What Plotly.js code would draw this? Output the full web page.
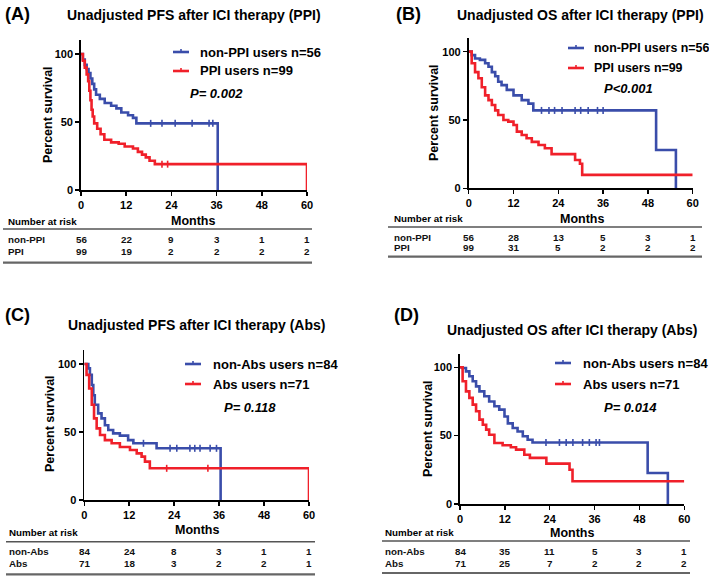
<!DOCTYPE html>
<html><head><meta charset="utf-8">
<script src="https://cdn.plot.ly/plotly-3.0.1.min.js"></script>
<style>html,body{margin:0;padding:0;background:#fff}#chart{width:709px;height:576px}</style>
</head><body><div id="chart"></div>
<script>
// ---------- DATA ----------
const riskMonths = [0, 12, 24, 36, 48, 60];

// Panel A: PFS (PPI)
const pfsPpiNonT = [0,0.5,1.0,1.5,2.0,2.5,3.0,3.5,4.0,5.0,6.3,8.0,9.4,10.7,12.5,13.8,14.7,36.3];
const pfsPpiNonS = [100,96,92,89,86,82,78,74,70,67,64,62,60,57,55,53,49,0];
const pfsPpiNonCensT = [18.5,21.5,25,29.5,34,35];
const pfsPpiNonCensS = [49,49,49,49,49,49];
const pfsPpiT = [0,0.5,1.0,1.5,1.9,2.2,2.5,2.8,3.1,3.5,4.3,5.2,6.2,8.0,10.0,11.6,13.8,15.1,16.2,17.2,18.2,19.6,60];
const pfsPpiS = [100,95,90,85,80,73,66,59,54,49,45,41,37,35,34,32,30.5,28,26,24,21.5,19,0];
const pfsPpiCensT = [21.5,23];
const pfsPpiCensS = [19,19];
const riskA_non = [56,22,9,3,1,1];
const riskA_ppi = [99,19,2,2,2,2];

// Panel B: OS (PPI)
const osPpiNonT = [0,0.8,1.7,3.0,4.4,5.3,6.2,7.1,7.9,8.8,10.2,12.0,14.2,16.0,17.3,50.2,55.5];
const osPpiNonS = [100,97.5,95,94,91.5,89,85,82,78,75.5,72,68,64.5,62,57,28,0];
const osPpiNonCensT = [19.5,21.5,23,25,28.5,30,32,34.5,36];
const osPpiNonCensS = [57,57,57,57,57,57,57,57,57];
const osPpiT = [0,0.8,1.7,2.6,3.5,4.4,5.3,6.2,7.1,7.9,9.3,10.6,12.0,12.9,14.2,15.5,16.9,18.7,20.4,22.2,28.5,29.8,30.4,60];
const osPpiS = [100,91.5,85,80.5,74,68,64.5,61,57,53.7,50,48.8,46.3,41.5,39,36.6,34,31.7,29.3,25,20.7,18,9.8,9.8];
const riskB_non = [56,28,13,5,3,1];
const riskB_ppi = [99,31,5,2,2,2];

// Panel C: PFS (Abs)
const pfsAbsNonT = [0,1.07,1.5,2.0,2.4,2.8,3.7,4.6,5.5,6.4,7.7,9.5,11.7,13.1,19.3,36.4];
const pfsAbsNonS = [100,96.8,92,84.6,77,70,63.7,60,55,51.5,49,47.3,44,41.7,38,0];
const pfsAbsNonCensT = [15.8,22.9,24.7,28.2,29.5,30.9,33.6,35.3];
const pfsAbsNonCensS = [41.7,38,38,38,38,38,38,38];
const pfsAbsT = [0,0.6,1.3,2.0,2.6,3.3,4.2,5.5,7.3,9.5,12.2,14.0,15.3,16.2,17.5,60];
const pfsAbsS = [100,92,82,70,60,52.7,47.8,44,41.7,39,36.8,34.3,31.9,28.2,23.3,0];
const pfsAbsCensT = [22,33];
const pfsAbsCensS = [23.3,23.3];
const riskC_non = [84,24,8,3,1,1];
const riskC_abs = [71,18,3,2,2,1];

// Panel D: OS (Abs)
const osAbsNonT = [0,0.7,1.6,2.5,3.4,4.3,5.2,6.5,7.8,9.2,10.5,11.9,12.8,14.1,15.4,16.8,18.1,19.4,50.2,55.6];
const osAbsNonS = [100,99.5,97,93.4,89.8,86,82.4,78.8,75,71.5,69,64,59,55.6,53,49.5,47,45,22.7,0];
const osAbsNonCensT = [23,26.6,28.4,30.2,32.8,34.6,36.4,37.3];
const osAbsNonCensS = [45,45,45,45,45,45,45,45];
const osAbsT = [0,0.7,1.6,2.5,3.4,4.3,5.2,6.1,7.0,7.8,9.2,11.4,13.6,15.0,17.2,18.7,23.1,29.3,30.1,60];
const osAbsS = [100,89.8,82.4,77.6,72.7,67.8,61.7,58,54.4,50.7,44.6,43,41.5,39.8,36,33.7,29.5,25,16.6,16.6];
const riskD_non = [84,35,11,5,3,1];
const riskD_abs = [71,25,7,2,2,2];

const panelLetters = ['(A)','(B)','(C)','(D)'];
const panelTitles = ['Unadjusted PFS after ICI therapy (PPI)','Unadjusted OS after ICI therapy (PPI)',
                     'Unadjusted PFS after ICI therapy (Abs)','Unadjusted OS after ICI therapy (Abs)'];
const legendNames = [['non-PPI users n=56','PPI users n=99'],['non-PPI users n=56','PPI users n=99'],
                     ['non-Abs users n=84','Abs users n=71'],['non-Abs users n=84','Abs users n=71']];
const rowNames = [['non-PPI','PPI'],['non-PPI','PPI'],['non-Abs','Abs'],['non-Abs','Abs']];
const pValues = ['P= 0.002','P<0.001','P= 0.118','P= 0.014'];
const yTicks = [0, 50, 100];

// ---------- LAYOUT HELPERS ----------
const W = 709, H = 576;
const px = x => x / W, py = y => 1 - y / H;
const BLUE = '#3A4DAA', RED = '#F0202A';
const FONT = 'Liberation Sans, Arial, sans-serif';

const curves = [
  [[pfsPpiNonT,pfsPpiNonS,pfsPpiNonCensT,pfsPpiNonCensS],[pfsPpiT,pfsPpiS,pfsPpiCensT,pfsPpiCensS]],
  [[osPpiNonT,osPpiNonS,osPpiNonCensT,osPpiNonCensS],[osPpiT,osPpiS,[],[]]],
  [[pfsAbsNonT,pfsAbsNonS,pfsAbsNonCensT,pfsAbsNonCensS],[pfsAbsT,pfsAbsS,pfsAbsCensT,pfsAbsCensS]],
  [[osAbsNonT,osAbsNonS,osAbsNonCensT,osAbsNonCensS],[osAbsT,osAbsS,[],[]]]
];
const risks = [[riskA_non,riskA_ppi],[riskB_non,riskB_ppi],[riskC_non,riskC_abs],[riskD_non,riskD_abs]];

// pixel geometry per panel
const geo = [
  {x0:81, x1:307, y0:190, yTop:40.4, letter:[17.5,14], title:[194,15], ytitle:[48,115],
   leg:{lx:173, tx:198, y1:52, y2:71, px:188, py:93, fs:13},
   tab:{lab:6, nar:221, months:[193,221], top:229, r1:239.3, r2:251.7, bot:262.7, lx0:3, lx1:312}},
  {x0:468.7, x1:692.7, y0:188.3, yTop:38, letter:[408,14], title:[580,15], ytitle:[434,113],
   leg:{lx:568, tx:592, y1:48, y2:68, px:602, py:89, fs:12.4},
   tab:{lab:392, nar:219, months:[582,219], top:227, r1:237.7, r2:247.3, bot:256.7, lx0:388, lx1:702}},
  {x0:84.3, x1:309, y0:500, yTop:350.4, letter:[17.5,315], title:[196.5,325], ytitle:[50,424],
   leg:{lx:185, tx:211, y1:364, y2:384, px:222, py:407, fs:13},
   tab:{lab:7, nar:532.7, months:[196.7,530], top:541.7, r1:551.7, r2:563.3, bot:574.3, lx0:6, lx1:315}},
  {x0:460, x1:684.3, y0:504, yTop:353.6, letter:[406,315], title:[571.5,330], ytitle:[428,428],
   leg:{lx:555, tx:581, y1:363, y2:384, px:602, py:407, fs:13},
   tab:{lab:383, nar:532, months:[572,533], top:541, r1:551, r2:563, bot:573, lx0:382, lx1:690}}
];

const traces = [], annotations = [], shapes = [];
const layout = {
  width: W, height: H, margin: {l:0, r:0, t:0, b:0},
  paper_bgcolor: '#fff', plot_bgcolor: 'rgba(0,0,0,0)', showlegend: false,
  font: {family: FONT, color: '#000'}
};

geo.forEach((g, i) => {
  const n = i === 0 ? '' : String(i + 1);
  const xa = 'x' + n, ya = 'y' + n;
  const axCommon = {
    showline: true, linecolor: '#000', linewidth: 1.8, ticks: 'outside', ticklen: 4,
    tickwidth: 1.5, tickcolor: '#000', showgrid: false, zeroline: false, automargin: false,
    fixedrange: true, tickfont: {family: FONT, size: 11, weight: 'bold', color: '#000'}
  };
  layout['xaxis' + n] = Object.assign({}, axCommon, {
    domain: [px(g.x0), px(g.x1)], range: [0, 60], anchor: ya,
    tickmode: 'array', tickvals: riskMonths, ticktext: riskMonths.map(String)
  });
  layout['yaxis' + n] = Object.assign({}, axCommon, {
    domain: [py(g.y0), py(g.yTop)], range: [0, 110], anchor: xa,
    tickmode: 'array', tickvals: yTicks, ticktext: yTicks.map(String)
  });

  const cols = [BLUE, RED];
  curves[i].forEach((c, k) => {
    traces.push({x: c[0], y: c[1], xaxis: xa, yaxis: ya, type: 'scatter', mode: 'lines',
      line: {shape: 'hv', color: cols[k], width: 2.6}, cliponaxis: false, hoverinfo: 'skip'});
    if (c[2].length) traces.push({x: c[2], y: c[3], xaxis: xa, yaxis: ya, type: 'scatter', mode: 'markers',
      marker: {symbol: 'line-ns-open', size: 5, color: cols[k], line: {color: cols[k], width: 1.6}},
      cliponaxis: false, hoverinfo: 'skip'});
  });

  // panel letter and title
  annotations.push({text: panelLetters[i], xref: 'paper', yref: 'paper', x: px(g.letter[0]), y: py(g.letter[1]),
    xanchor: 'center', yanchor: 'middle', showarrow: false, font: {family: FONT, size: 18, weight: 'bold'}});
  annotations.push({text: panelTitles[i], xref: 'paper', yref: 'paper', x: px(g.title[0]), y: py(g.title[1]),
    xanchor: 'center', yanchor: 'middle', showarrow: false, font: {family: FONT, size: 14, weight: 'bold'}});
  annotations.push({text: 'Percent survival', xref: 'paper', yref: 'paper', x: px(g.ytitle[0]), y: py(g.ytitle[1]),
    xanchor: 'center', yanchor: 'middle', textangle: -90, showarrow: false,
    font: {family: FONT, size: 12.5, weight: 'bold'}});

  // legend
  const L = g.leg;
  [[L.y1, BLUE, legendNames[i][0]], [L.y2, RED, legendNames[i][1]]].forEach(([yy, col, txt]) => {
    shapes.push({type: 'line', xref: 'paper', yref: 'paper', x0: px(L.lx), x1: px(L.lx + 16),
      y0: py(yy), y1: py(yy), line: {color: col, width: 2.6}});
    shapes.push({type: 'line', xref: 'paper', yref: 'paper', x0: px(L.lx + 8), x1: px(L.lx + 8),
      y0: py(yy - 3), y1: py(yy + 1), line: {color: col, width: 1.6}});
    annotations.push({text: txt, xref: 'paper', yref: 'paper', x: px(L.tx), y: py(yy),
      xanchor: 'left', yanchor: 'middle', showarrow: false, font: {family: FONT, size: L.fs, weight: 'bold'}});
  });
  annotations.push({text: pValues[i], xref: 'paper', yref: 'paper', x: px(L.px), y: py(L.py),
    xanchor: 'left', yanchor: 'middle', showarrow: false,
    font: {family: FONT, size: 13, weight: 'bold', style: 'italic'}});

  // risk table
  const T = g.tab;
  annotations.push({text: 'Number at risk', xref: 'paper', yref: 'paper', x: px(T.lab), y: py(T.nar),
    xanchor: 'left', yanchor: 'middle', showarrow: false, font: {family: FONT, size: 9.8, weight: 'bold'}});
  annotations.push({text: 'Months', xref: 'paper', yref: 'paper', x: px(T.months[0]), y: py(T.months[1]),
    xanchor: 'center', yanchor: 'middle', showarrow: false, font: {family: FONT, size: 12.5, weight: 'bold'}});
  shapes.push({type: 'line', xref: 'paper', yref: 'paper', x0: px(T.lx0), x1: px(T.lx1), y0: py(T.top), y1: py(T.top),
    line: {color: '#555', width: 1.5}});
  shapes.push({type: 'line', xref: 'paper', yref: 'paper', x0: px(T.lx0), x1: px(T.lx1), y0: py(T.bot), y1: py(T.bot),
    line: {color: '#666', width: 2.2}});
  [[T.r1, 0], [T.r2, 1]].forEach(([yy, k]) => {
    annotations.push({text: rowNames[i][k], xref: 'paper', yref: 'paper', x: px(T.lab), y: py(yy),
      xanchor: 'left', yanchor: 'middle', showarrow: false, font: {family: FONT, size: 9.8, weight: 'bold', color: '#111'}});
    riskMonths.forEach((m, j) => {
      annotations.push({text: String(risks[i][k][j]), xref: xa, yref: 'paper', x: m, y: py(yy),
        xanchor: 'center', yanchor: 'middle', showarrow: false, font: {family: FONT, size: 9.8, weight: 'bold', color: '#111'}});
    });
  });
});

layout.annotations = annotations;
layout.shapes = shapes;
Plotly.newPlot('chart', traces, layout, {staticPlot: true, displayModeBar: false});
</script>
</body></html>
